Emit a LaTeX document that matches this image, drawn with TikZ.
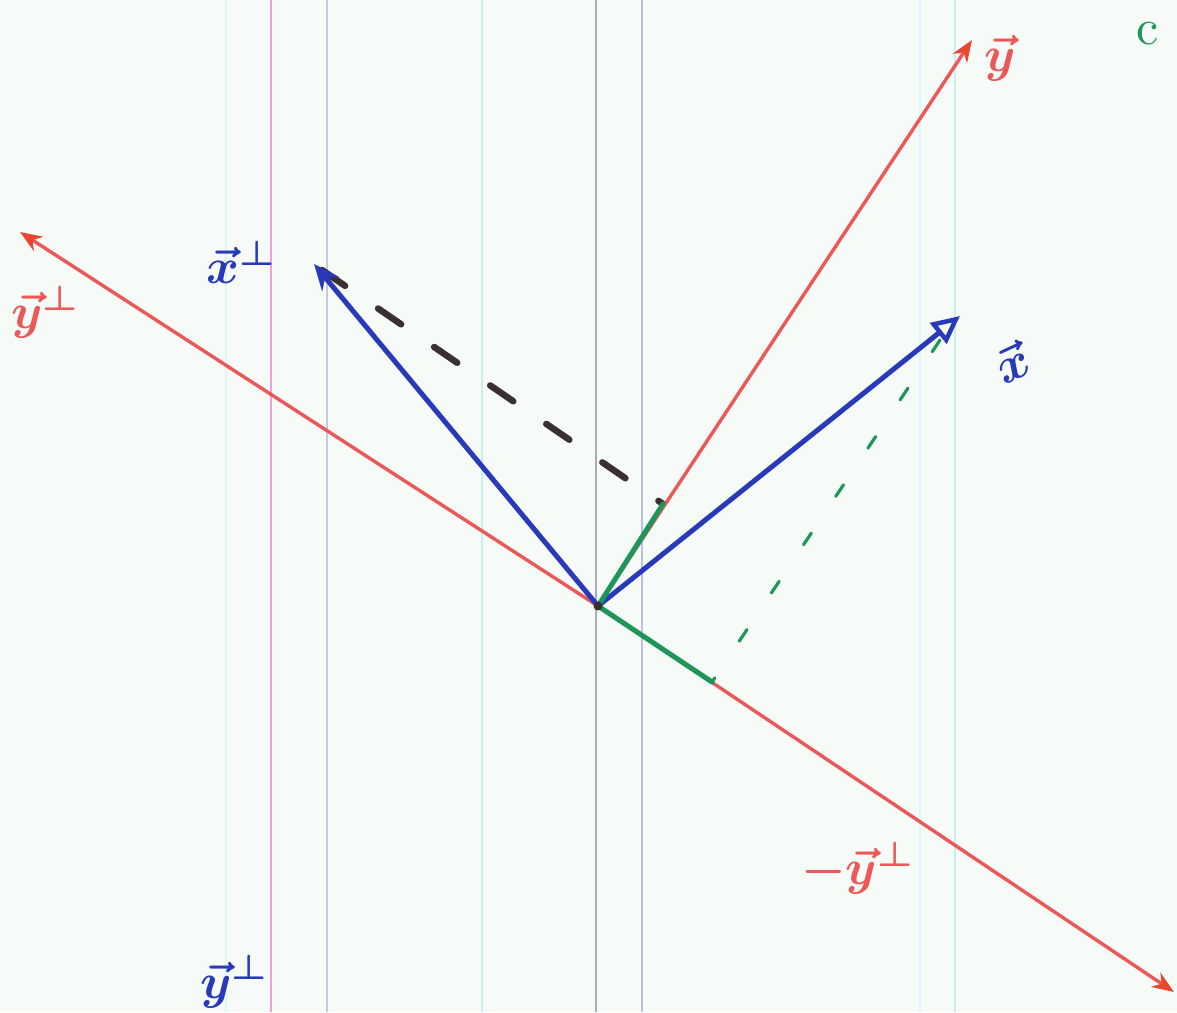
\documentclass[tikz,border=0pt]{standalone}
\usepackage{graphicx}
\usepackage{amsmath,amsbsy}
\usetikzlibrary{arrows.meta}
\definecolor{paper}{RGB}{247,251,247}
\definecolor{penred}{RGB}{236,88,88}
\definecolor{tipred}{RGB}{232,70,48}
\definecolor{penblue}{RGB}{40,58,185}
\definecolor{pengreen}{RGB}{30,150,90}
\definecolor{penblack}{RGB}{58,48,52}
\definecolor{rulecyan}{RGB}{200,240,240}
\definecolor{rulepink}{RGB}{240,160,225}
\definecolor{rulegrey}{RGB}{200,200,225}
\definecolor{rulelav}{RGB}{190,190,235}
\newcommand{\hw}[1]{\scalebox{5}{$\boldsymbol{#1}$}}
\begin{document}
\begin{tikzpicture}[x=1pt,y=-1pt,
  redvec/.style={draw=penred,line width=3.4pt,-{Stealth[length=22pt,width=17pt,color=tipred,fill=tipred]}},
  bluevec/.style={draw=penblue,line width=5pt,-{Stealth[length=26pt,width=22pt]}},
  greenseg/.style={draw=pengreen,line width=5pt,line cap=round},
  greendash/.style={draw=pengreen,line width=3.2pt,line cap=round,dash pattern=on 14pt off 44pt},
  blackdash/.style={draw=penblack,line width=6.5pt,line cap=round,dash pattern=on 28pt off 40pt},
  redlab/.style={text=penred,inner sep=0pt},
  bluelab/.style={text=penblue,inner sep=0pt},
  rulel/.style={line width=1.2pt}]
\useasboundingbox (0,0) rectangle (1177,1012);
\fill[paper] (0,0) rectangle (1177,1012);
\clip (0,0) rectangle (1177,1012);
% ruled paper lines
\draw[rulel,draw=rulecyan!60] (226,0) -- (226,1012);
\draw[rulel,draw=rulepink,line width=1.6pt] (271,0) -- (271,1012);
\draw[rulel,draw=rulegrey] (327,0) -- (327,1012);
\draw[rulel,draw=rulecyan,line width=1.6pt] (482,0) -- (482,1012);
\draw[rulel,draw=rulegrey!80!black!90] (596,0) -- (596,1012);
\draw[rulel,draw=rulelav] (642,0) -- (642,1012);
\draw[rulel,draw=rulecyan!60] (920,0) -- (920,1012);
\draw[rulel,draw=rulecyan,line width=1.6pt] (955,0) -- (955,1012);
% points
\coordinate (O) at (598,606);
\coordinate (Y) at (972,40);
\coordinate (YP) at (20,232);
\coordinate (NYP) at (1174,992);
\coordinate (XP) at (314,264);
\coordinate (X) at (960,316);
\coordinate (FY) at (663,504);
\coordinate (FN) at (712,682);
\coordinate (XD) at (940,340);
\coordinate (XPD) at (322,270);
% projections
\draw[blackdash] (XPD) -- (FY);
\draw[greendash] (XD) -- (FN);
% red vectors
\draw[redvec] (O) -- (Y);
\draw[redvec] (O) -- (YP);
\draw[redvec] (O) -- (NYP);
% blue vectors
\draw[bluevec] (O) -- (XP);
\draw[bluevec,-{Triangle[open,length=28pt,width=26pt,line width=4.5pt]}] (O) -- (X);
% green components
\draw[greenseg] (O) -- (FY);
\draw[greenseg] (O) -- (FN);
\fill[penblack] (O) circle (4.5pt);
% labels
\node[redlab] (ly) at (1000,58) {\hw{\vec{y}}};
\node[redlab] (lyp) at (46,312) {\hw{\vec{y}^{\perp}}};
\node[redlab] (lnyp) at (858,868) {\hw{-\vec{y}^{\perp}}};
\node[bluelab] (lxp) at (242,262) {\hw{\vec{x}^{\perp}}};
\node[bluelab,rotate=25] (lx) at (1012,362) {\hw{\vec{x}}};
\node[text=pengreen,inner sep=0pt] (lc) at (1148,34) {\scalebox{5}{c}};
\node[bluelab,anchor=south west] (lb1) at (200,1008) {\hw{\vec{y}^{\perp}}};
\end{tikzpicture}
\end{document}
